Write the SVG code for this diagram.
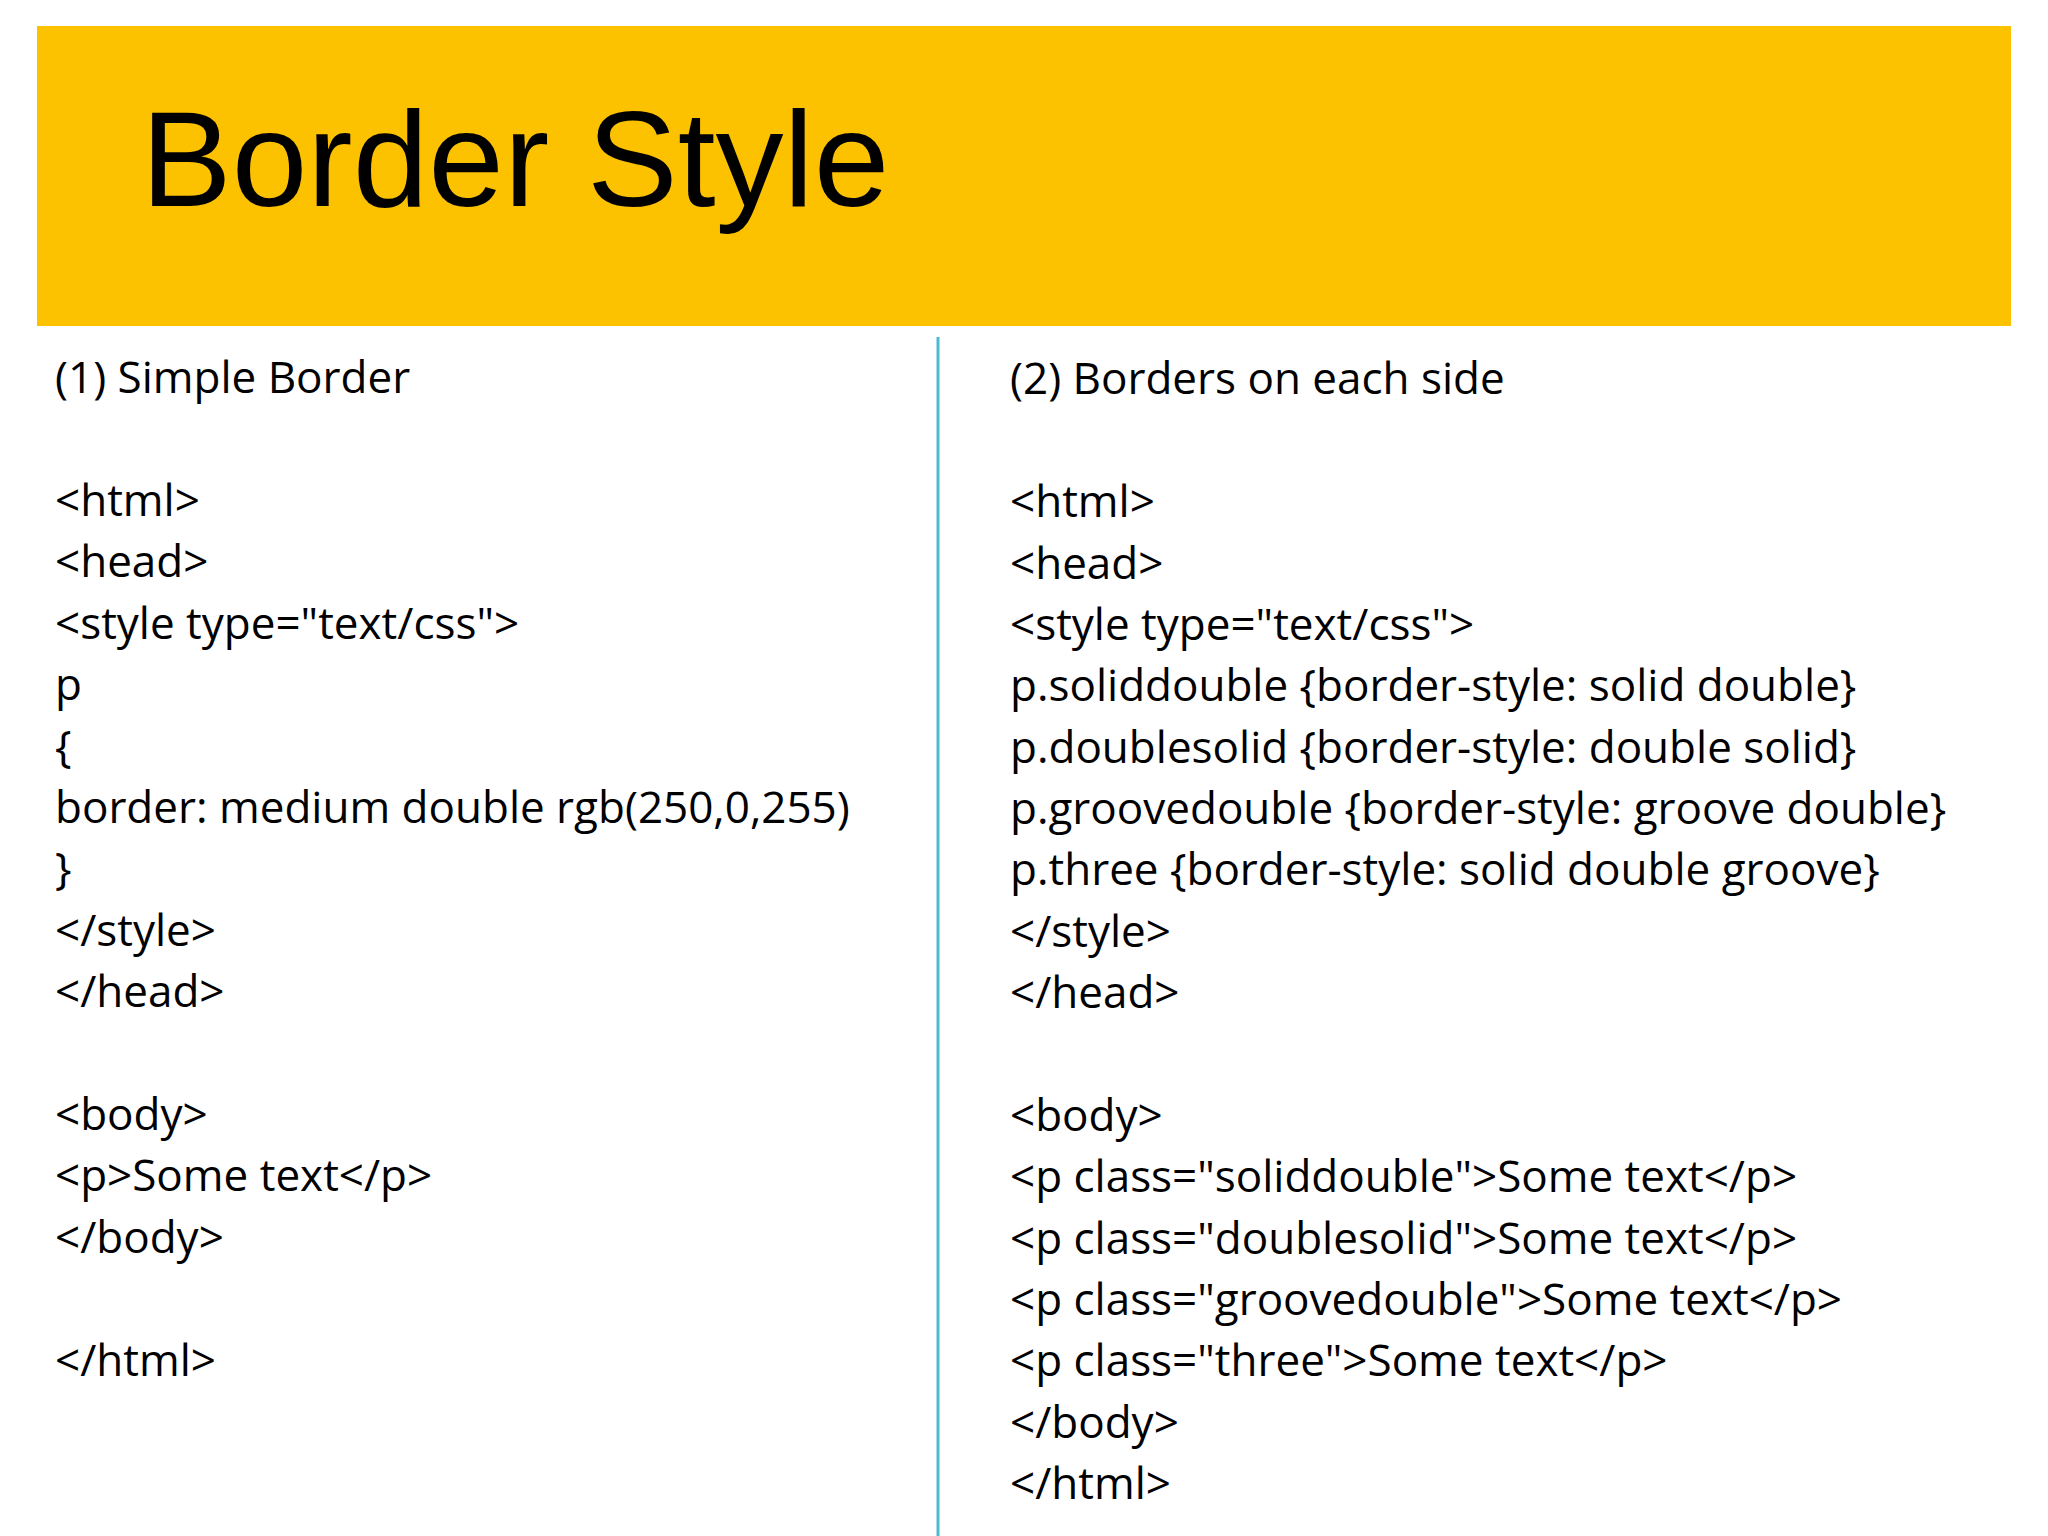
<svg xmlns="http://www.w3.org/2000/svg" width="2048" height="1536" viewBox="0 0 2048 1536">
<style>
.t{font-family:"Open Sans","Liberation Sans",sans-serif;font-size:44px;fill:#000}
</style>
<rect width="2048" height="1536" fill="#fff"/>
<g id="banner">
<rect x="37" y="26" width="1974" height="300" fill="#fcc200"/>
<text x="141" y="206" font-family="Liberation Sans,Arial,sans-serif" font-size="136" fill="#000">Border Style</text>
</g>
<g id="divider"><line x1="938" y1="337" x2="938" y2="1536" stroke="#4bbcd0" stroke-width="3"/></g>
<g id="left">
<text class="t" x="55" y="393">(1) Simple Border</text>
<text class="t" x="55" y="516">&lt;html&gt;</text>
<text class="t" x="55" y="577">&lt;head&gt;</text>
<text class="t" x="55" y="639">&lt;style type="text/css"&gt;</text>
<text class="t" x="55" y="700">p</text>
<text class="t" x="55" y="762">{</text>
<text class="t" x="55" y="823">border: medium double rgb(250,0,255)</text>
<text class="t" x="55" y="884">}</text>
<text class="t" x="55" y="946">&lt;/style&gt;</text>
<text class="t" x="55" y="1007">&lt;/head&gt;</text>
<text class="t" x="55" y="1130">&lt;body&gt;</text>
<text class="t" x="55" y="1191">&lt;p&gt;Some text&lt;/p&gt;</text>
<text class="t" x="55" y="1253">&lt;/body&gt;</text>
<text class="t" x="55" y="1376">&lt;/html&gt;</text>
</g>
<g id="right">
<text class="t" x="1010" y="394">(2) Borders on each side</text>
<text class="t" x="1010" y="517">&lt;html&gt;</text>
<text class="t" x="1010" y="579">&lt;head&gt;</text>
<text class="t" x="1010" y="640">&lt;style type="text/css"&gt;</text>
<text class="t" x="1010" y="701">p.soliddouble {border-style: solid double}</text>
<text class="t" x="1010" y="763">p.doublesolid {border-style: double solid}</text>
<text class="t" x="1010" y="824">p.groovedouble {border-style: groove double}</text>
<text class="t" x="1010" y="885">p.three {border-style: solid double groove}</text>
<text class="t" x="1010" y="947">&lt;/style&gt;</text>
<text class="t" x="1010" y="1008">&lt;/head&gt;</text>
<text class="t" x="1010" y="1131">&lt;body&gt;</text>
<text class="t" x="1010" y="1192">&lt;p class="soliddouble"&gt;Some text&lt;/p&gt;</text>
<text class="t" x="1010" y="1254">&lt;p class="doublesolid"&gt;Some text&lt;/p&gt;</text>
<text class="t" x="1010" y="1315">&lt;p class="groovedouble"&gt;Some text&lt;/p&gt;</text>
<text class="t" x="1010" y="1376">&lt;p class="three"&gt;Some text&lt;/p&gt;</text>
<text class="t" x="1010" y="1438">&lt;/body&gt;</text>
<text class="t" x="1010" y="1499">&lt;/html&gt;</text>
</g>
</svg>
